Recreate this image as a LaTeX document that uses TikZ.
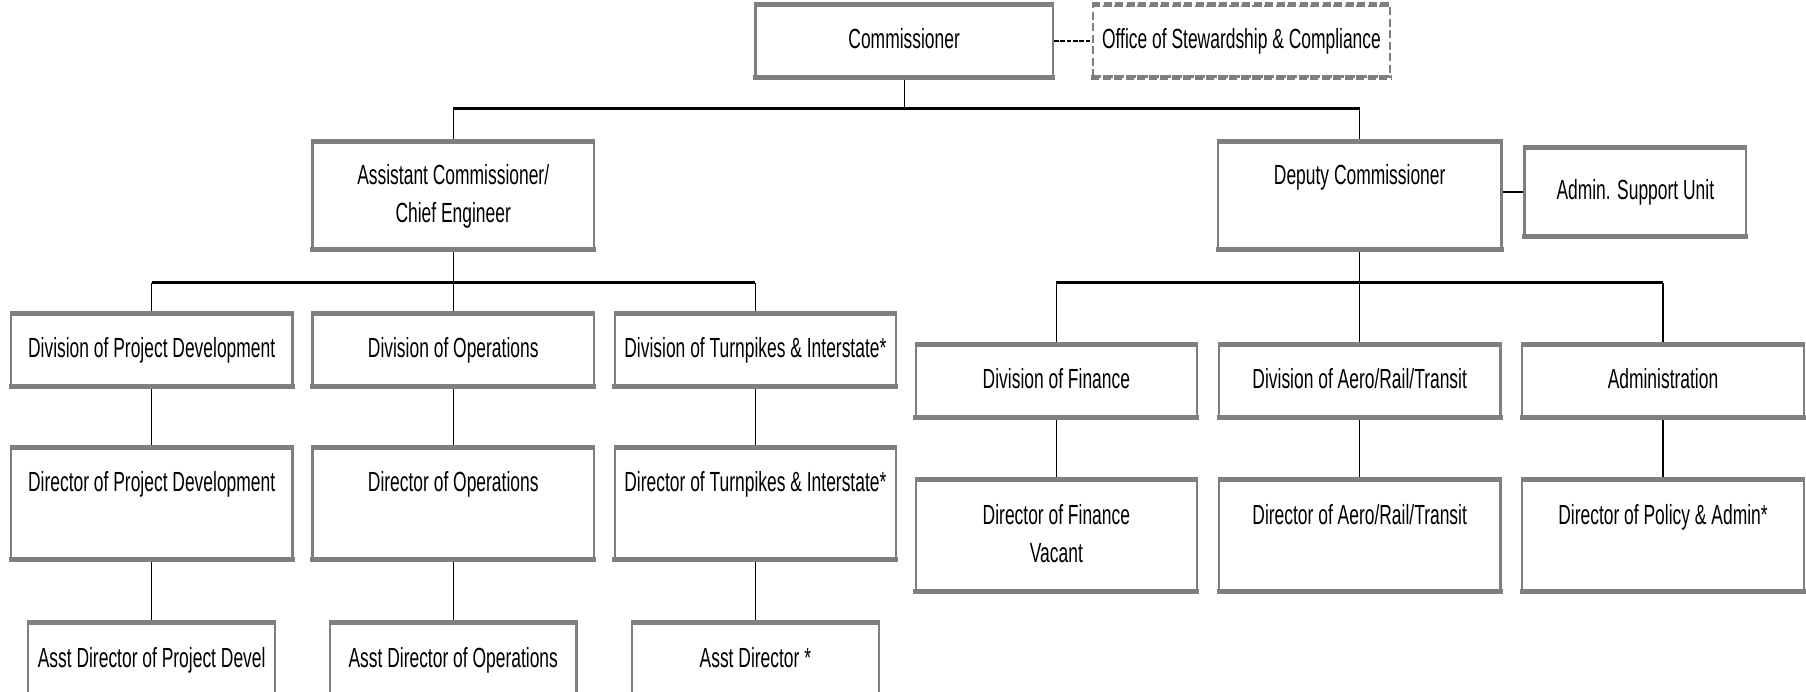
\documentclass[tikz,border=0pt]{standalone}
\usepackage{fontspec}
\usetikzlibrary{backgrounds}
\newfontfamily\labfont[FakeStretch=0.63]{Liberation Sans}
\newcommand\lab{\labfont\fontsize{24}{33}\selectfont}
\definecolor{bgray}{HTML}{7F7F7F}
\tikzset{
  box/.style={draw=bgray, line width=2pt, fill=white, inner sep=0pt, align=center, font=\lab},
  dbox/.style={box, dash pattern=on 7pt off 3pt},
  edgebar/.style={bgray, line width=4.4pt, shorten <=-1pt, shorten >=-1pt},
  dedgebar/.style={edgebar, dash pattern=on 7pt off 3pt},
  stem/.style={black, line width=1pt},
  bus/.style={black, line width=2pt},
  dashconn/.style={black, line width=1.6pt, dash pattern=on 4pt off 1.5pt},
}
\newcommand\bars[2][edgebar]{\draw[#1] (#2.north west) -- (#2.north east) (#2.south west) -- (#2.south east);}
\begin{document}
\begin{tikzpicture}[x=1pt,y=1pt]
\useasboundingbox (0,0) rectangle (1566,-600);
\clip (0,0) rectangle (1566,-600);
% level 0
\node[box, minimum width=258, minimum height=61] (com) at (784,-35.75) {\strut Commissioner};
\node[dbox, minimum width=257, minimum height=61] (off) at (1076.5,-35.75) {\strut Office of Stewardship \& Compliance};
% level 1
\node[box, minimum width=244, minimum height=91] (asst) at (393,-169.5) {\strut Assistant Commissioner/\\\strut Chief Engineer};
\node[box, minimum width=246, minimum height=92] (dep) at (1179,-169.5) {\strut Deputy Commissioner\\\strut};
\node[box, minimum width=192, minimum height=75] (adm) at (1418,-166.5) {\strut Admin. Support Unit};
% left level 2
\node[box, minimum width=244, minimum height=61] (dpd) at (131.5,-303.5) {\strut Division of Project Development};
\node[box, minimum width=244, minimum height=61] (dops) at (393,-303.5) {\strut Division of Operations};
\node[box, minimum width=244, minimum height=61] (dtp) at (655,-303.5) {\strut Division of Turnpikes \& Interstate*};
% left level 3
\node[box, minimum width=244, minimum height=95] (rpd) at (131.5,-436.5) {\strut Director of Project Development\\\strut};
\node[box, minimum width=244, minimum height=95] (rops) at (393,-436.5) {\strut Director of Operations\\\strut};
\node[box, minimum width=244, minimum height=95] (rtp) at (655,-436.5) {\strut Director of Turnpikes \& Interstate*\\\strut};
% left level 4
\node[box, minimum width=214, minimum height=62] (apd) at (131.5,-572) {\strut Asst Director of Project Devel};
\node[box, minimum width=214, minimum height=62] (aops) at (393,-572) {\strut Asst Director of Operations};
\node[box, minimum width=214, minimum height=62] (atp) at (655,-572) {\strut Asst Director *};
% right level 2
\node[box, minimum width=244, minimum height=61] (fin) at (916,-330.5) {\strut Division of Finance};
\node[box, minimum width=244, minimum height=61] (aero) at (1179,-330.5) {\strut Division of Aero/Rail/Transit};
\node[box, minimum width=244, minimum height=61] (admn) at (1442,-330.5) {\strut Administration};
% right level 3
\node[box, minimum width=244, minimum height=95] (rfin) at (916,-464.5) {\strut Director of Finance\\\strut Vacant};
\node[box, minimum width=244, minimum height=95] (raero) at (1179,-464.5) {\strut Director of Aero/Rail/Transit\\\strut};
\node[box, minimum width=244, minimum height=95] (radmn) at (1442,-464.5) {\strut Director of Policy \& Admin*\\\strut};
% thick top and bottom edges
\foreach \n in {com,asst,dep,adm,dpd,dops,dtp,rpd,rops,rtp,apd,aops,atp,fin,aero,admn,rfin,raero,radmn}{\bars{\n}}
\bars[dedgebar]{off}
% connectors
\begin{scope}[on background layer]
\fill[white] (0,0) rectangle (1566,-600);
\coordinate (b1) at (0,-94);
\coordinate (b2) at (0,-245);
\draw[dashconn] (com.east) -- (off.west);
\draw[stem] (com.south) -- (com.south |- b1);
\draw[bus] (asst.north |- b1) -- (dep.north |- b1);
\draw[stem] (asst.north |- b1) -- (asst.north);
\draw[stem] (dep.north |- b1) -- (dep.north);
\draw[bus] (adm.west) -- (adm.west -| dep.east);
% left branch
\draw[stem] (asst.south) -- (asst.south |- b2);
\draw[bus] (dpd.north |- b2) -- (dtp.north |- b2);
\draw[stem] (dpd.north |- b2) -- (dpd.north);
\draw[stem] (dops.north |- b2) -- (dops.north);
\draw[stem] (dtp.north |- b2) -- (dtp.north);
\draw[stem] (dpd.south) -- (rpd.north);
\draw[stem] (dops.south) -- (rops.north);
\draw[stem] (dtp.south) -- (rtp.north);
\draw[stem] (rpd.south) -- (apd.north);
\draw[stem] (rops.south) -- (aops.north);
\draw[stem] (rtp.south) -- (atp.north);
% right branch
\draw[stem] (dep.south) -- (dep.south |- b2);
\draw[bus] (fin.north |- b2) -- (admn.north |- b2);
\draw[stem] (fin.north |- b2) -- (fin.north);
\draw[stem] (aero.north |- b2) -- (aero.north);
\draw[stem] (admn.north |- b2) -- (admn.north);
\draw[stem] (fin.south) -- (rfin.north);
\draw[stem] (aero.south) -- (raero.north);
\draw[stem] (admn.south) -- (radmn.north);
\end{scope}
\end{tikzpicture}
\end{document}
